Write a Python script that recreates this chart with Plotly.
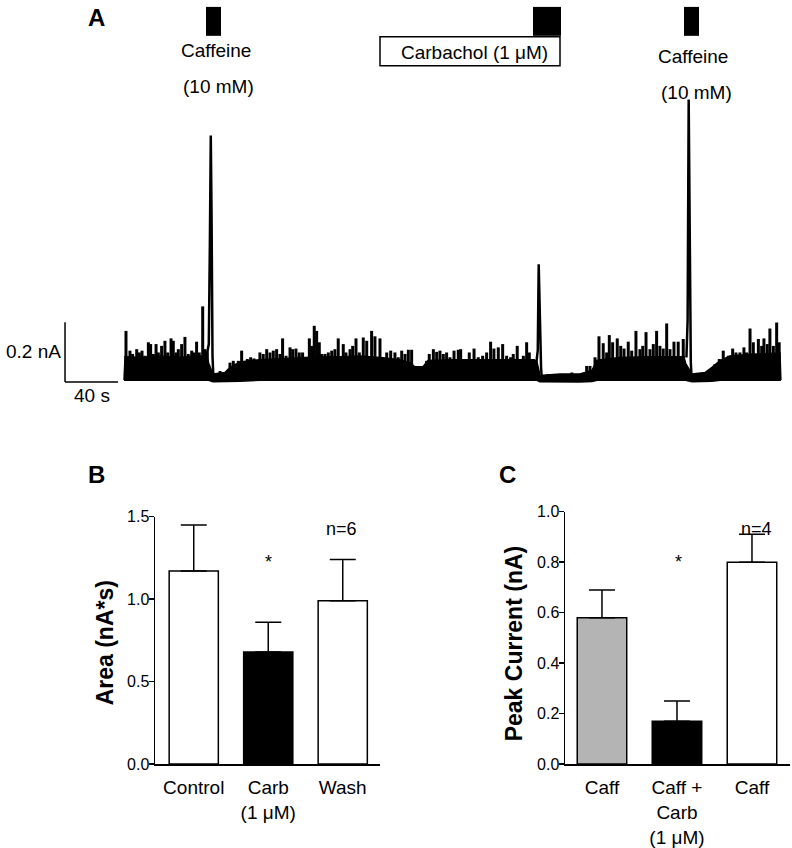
import plotly.graph_objects as go

W, H = 792, 848
# the photographed page is mapped as y_photo = 8.1 + 0.98 * y_page; positions below are
# written in photo pixels and converted back to page coordinates.
Y_OFF, Y_SC = 8.1, 0.980


def px(x):
    return x / W


def py(y):
    return 1 - ((y - Y_OFF) / Y_SC) / H


FONT = "Liberation Sans, Arial, Helvetica, sans-serif"

# ---------------- Panel A : membrane current trace (time in s, current in nA)
spike_t = [1.5, 4.5, 6.5, 9.6, 11.6, 13.6, 15.8, 18.4, 20.1, 22.1, 24.2, 25.9, 28.4, 30.9, 33.0,
           35.5, 37.2, 39.2, 41.0, 43.5, 46.0, 48.5, 51.1, 52.8, 54.8, 56.8, 59.4, 61.1, 62.9,
           72.5, 77.0, 80.0, 82.5, 86.3, 88.8, 90.6, 93.1, 95.6, 98.1, 102.6, 105.1, 107.7, 110.2,
           112.7, 115.2, 117.7, 119.7, 122.3, 125.3, 127.3, 129.8, 132.3, 134.8, 136.6, 139.9, 141.6,
           143.6, 145.4, 147.4, 149.2, 151.7, 154.2, 156.8, 159.2, 161.7,
           165.5, 167.5, 170.6, 172.6, 175.1, 177.6, 180.6, 183.2, 186.9, 189.4, 193.2, 195.7, 198.3,
           201.3, 204.5, 207.0, 209.6, 212.1, 214.6, 217.1, 228.4, 230.4, 233.5, 236.0, 238.5, 241.0,
           243.5, 246.0, 249.1, 252.3, 254.1, 257.4, 260.6, 264.2, 267.4, 270.7, 273.7, 276.7, 279.2,
           282.5, 285.8, 288.8, 291.8, 293.8, 296.8, 299.4, 301.4, 303.9, 305.9, 308.9,
           320.0, 329.1, 338.0, 349.2, 351.7, 355.5, 358.5, 361.7, 364.3, 366.3, 368.8, 372.3, 374.9,
           377.4, 380.6, 383.2, 386.4, 389.4, 391.5, 394.0, 397.0, 399.5, 402.0, 404.5, 407.0, 409.6,
           412.1, 415.1, 418.3, 422.1,
           432.0, 438.0, 446.0, 449.3, 452.3, 456.1, 459.4, 461.9, 464.9, 467.9, 469.9, 472.5, 475.0,
           478.8, 481.3, 483.0, 485.5, 487.5, 490.1, 492.6, 494.5]
spike_amp = [0.164, 0.098, 0.087, 0.103, 0.092, 0.098, 0.081, 0.126, 0.120, 0.087, 0.120, 0.092, 0.114,
             0.131, 0.092, 0.139, 0.131, 0.092, 0.103, 0.120, 0.144, 0.087, 0.098, 0.092, 0.128, 0.092,
             0.246, 0.103, 0.092,
             0.030, 0.020, 0.058, 0.064, 0.064, 0.098, 0.047, 0.070, 0.076, 0.072, 0.092, 0.087, 0.103,
             0.092, 0.098, 0.103, 0.087, 0.139, 0.081, 0.109, 0.103, 0.105, 0.092, 0.092, 0.076, 0.139,
             0.114, 0.181, 0.164, 0.126, 0.087, 0.087, 0.092, 0.098, 0.103, 0.139,
             0.120, 0.092, 0.103, 0.114, 0.139, 0.092, 0.142, 0.131, 0.164, 0.146, 0.139, 0.076, 0.092,
             0.098, 0.092, 0.076, 0.098, 0.087, 0.101, 0.101, 0.064, 0.087, 0.103, 0.094, 0.098, 0.087,
             0.092, 0.076, 0.098, 0.101, 0.103, 0.070, 0.092, 0.105, 0.076, 0.081, 0.092, 0.128, 0.105,
             0.109, 0.120, 0.081, 0.076, 0.087, 0.114, 0.070, 0.081, 0.126, 0.092, 0.070,
             0.020, 0.020, 0.025, 0.047, 0.047, 0.076, 0.146, 0.123, 0.092, 0.150, 0.126, 0.139, 0.114,
             0.105, 0.128, 0.098, 0.164, 0.103, 0.114, 0.160, 0.103, 0.120, 0.164, 0.114, 0.105, 0.189,
             0.103, 0.128, 0.128, 0.137,
             0.020, 0.025, 0.053, 0.070, 0.098, 0.081, 0.105, 0.092, 0.092, 0.109, 0.092, 0.172, 0.126,
             0.137, 0.114, 0.139, 0.120, 0.172, 0.114, 0.192, 0.126]

band_t = [0.0, 0.8, 12.0, 27.0, 42.0, 57.0, 62.6, 64.0, 67.2, 76.2,
          80.0, 87.5, 102.6, 117.7, 132.8, 147.9, 163.0, 178.1, 193.2, 208.3,
          215.8, 219.6, 225.7, 229.4, 246.0, 268.7, 291.3, 309.4, 311.7, 314.0,
          329.0, 344.0, 353.2, 357.0, 374.0, 397.0, 422.6, 424.0, 428.7, 438.5,
          443.8, 449.8, 457.4, 472.5, 495.1, 495.8]
band_top = [0.0, 0.078, 0.075, 0.08, 0.076, 0.08, 0.078, 0.055, 0.02, 0.025,
            0.042, 0.06, 0.068, 0.072, 0.075, 0.078, 0.078, 0.08, 0.075, 0.068,
            0.058, 0.044, 0.044, 0.065, 0.068, 0.068, 0.068, 0.068, 0.06, 0.015,
            0.02, 0.02, 0.032, 0.066, 0.075, 0.078, 0.078, 0.055, 0.02, 0.025,
            0.042, 0.065, 0.08, 0.086, 0.09, 0.0]
band_base = [0.0, 0.0, 0.0, 0.0, 0.0, 0.0, 0.0, 0.0, -0.005, -0.005,
             -0.005, -0.003, 0.0, 0.0, 0.0, 0.0, 0.0, 0.0, 0.0, 0.0,
             0.0, 0.0, 0.0, 0.0, 0.0, 0.0, 0.0, 0.0, 0.0, -0.005,
             -0.006, -0.006, -0.004, 0.0, 0.0, 0.0, 0.0, 0.0, -0.005, -0.005,
             -0.003, 0.0, 0.0, 0.0, 0.0, 0.0]

caff1_t = [62.8, 64.0, 64.8, 65.5, 66.1, 66.8, 67.6]
caff1_i = [0.09, 0.12, 0.45, 0.817, 0.55, 0.08, -0.005]
carb_t = [311.3, 312.3, 313.0, 313.6, 314.1, 314.8, 315.5]
carb_i = [0.06, 0.10, 0.387, 0.25, 0.137, 0.04, -0.005]
caff2_t = [424.5, 425.4, 426.2, 426.7, 427.2, 427.8, 428.5]
caff2_i = [0.075, 0.20, 0.937, 0.60, 0.277, 0.06, -0.005]

scale_time = 40      # s
scale_current = 0.2  # nA

# ---------------- Panel B : area
b_labels = ["Control", "Carb<br>(1 μM)", "Wash"]
b_area = [1.17, 0.68, 0.99]
b_sem = [0.28, 0.18, 0.25]
b_fill = ["white", "black", "white"]
b_ticks = [0.0, 0.5, 1.0, 1.5]

# ---------------- Panel C : peak current
c_labels = ["Caff", "Caff +<br>Carb<br>(1 μM)", "Caff"]
c_peak = [0.58, 0.17, 0.80]
c_sem = [0.11, 0.08, 0.11]
c_fill = ["#b4b4b4", "black", "white"]
c_ticks = [0.0, 0.2, 0.4, 0.6, 0.8, 1.0]

fig = go.Figure()

# --- trace A
fig.add_trace(go.Scatter(x=band_t, y=band_base, mode="lines",
                         line=dict(color="black", width=2), hoverinfo="skip",
                         xaxis="x", yaxis="y"))
fig.add_trace(go.Scatter(x=band_t, y=band_top, mode="lines", fill="tonexty",
                         fillcolor="black", line=dict(color="black", width=1.5),
                         hoverinfo="skip", xaxis="x", yaxis="y"))
sx, sy = [], []
for t, a in zip(spike_t, spike_amp):
    sx += [t, t, None]
    sy += [0.0, a, None]
fig.add_trace(go.Scatter(x=sx, y=sy, mode="lines", line=dict(color="black", width=3),
                         hoverinfo="skip", xaxis="x", yaxis="y"))
for tt, ii in [(caff1_t, caff1_i), (carb_t, carb_i), (caff2_t, caff2_i)]:
    fig.add_trace(go.Scatter(x=tt, y=ii, mode="lines", line=dict(color="black", width=2.5),
                             hoverinfo="skip", xaxis="x", yaxis="y"))

# --- bars B
fig.add_trace(go.Bar(x=[0, 1, 2], y=b_area, width=0.66,
                     marker=dict(color=b_fill, line=dict(color="black", width=1.5)),
                     error_y=dict(type="data", symmetric=False, array=b_sem,
                                  arrayminus=[0, 0, 0], color="black", thickness=1.5, width=13),
                     xaxis="x2", yaxis="y2"))
# --- bars C
fig.add_trace(go.Bar(x=[0, 1, 2], y=c_peak, width=0.66,
                     marker=dict(color=c_fill, line=dict(color="black", width=1.5)),
                     error_y=dict(type="data", symmetric=False, array=c_sem,
                                  arrayminus=[0, 0, 0], color="black", thickness=1.5, width=13),
                     xaxis="x3", yaxis="y3"))

axis_common = dict(showgrid=False, zeroline=False, showline=True, linecolor="black",
                   linewidth=1.5, fixedrange=True, color="black")

fig.update_layout(
    width=W, height=H, margin=dict(l=0, r=0, t=0, b=0),
    paper_bgcolor="white", plot_bgcolor="white", showlegend=False,
    font=dict(family=FONT, color="black", size=16),
    xaxis=dict(domain=[px(60), px(785)], range=[-48.3, 498.9], visible=False, fixedrange=True),
    yaxis=dict(domain=[py(391), py(81)], range=[-0.0333, 1.0], visible=False, fixedrange=True),
    xaxis2=dict(domain=[px(155), px(380)], range=[-0.52, 2.5], anchor="y2",
                tickmode="array", tickvals=[0, 1, 2], ticktext=b_labels, ticks="",
                tickfont=dict(size=19), ticklabelstandoff=6, **axis_common),
    yaxis2=dict(domain=[py(766), py(518)], range=[0, 1.5], anchor="x2",
                tickmode="array", tickvals=b_ticks, tickformat=".1f", ticks="outside",
                ticklen=5, tickwidth=1.5, tickcolor="black", tickfont=dict(size=16),
                ticklabelstandoff=-4, **axis_common),
    xaxis3=dict(domain=[px(565), px(790)], range=[-0.493, 2.507], anchor="y3",
                tickmode="array", tickvals=[0, 1, 2], ticktext=c_labels, ticks="",
                tickfont=dict(size=19), ticklabelstandoff=6, **axis_common),
    yaxis3=dict(domain=[py(766), py(513)], range=[0, 1.0], anchor="x3",
                tickmode="array", tickvals=c_ticks, tickformat=".1f", ticks="outside",
                ticklen=5, tickwidth=1.5, tickcolor="black", tickfont=dict(size=16),
                ticklabelstandoff=-4, **axis_common),
)

# scale bar (data coordinates of the trace axes)
sb_t0, sb_i0 = -44.5, -0.007
fig.add_shape(type="line", xref="x", yref="y", x0=sb_t0, x1=sb_t0,
              y0=sb_i0, y1=sb_i0 + scale_current, line=dict(color="black", width=1.5))
fig.add_shape(type="line", xref="x", yref="y", x0=sb_t0, x1=sb_t0 + scale_time,
              y0=sb_i0, y1=sb_i0, line=dict(color="black", width=1.5))

# drug application markers
for x0, x1 in [(206, 221), (533, 561), (684, 699)]:
    fig.add_shape(type="rect", xref="paper", yref="paper", x0=px(x0), x1=px(x1),
                  y0=py(36), y1=py(7), fillcolor="black", line=dict(width=0))
fig.add_shape(type="rect", xref="paper", yref="paper", x0=px(380), x1=px(560),
              y0=py(66), y1=py(37), line=dict(color="black", width=1.5))


def note(text, x, y, size=19, **kw):
    fig.add_annotation(text=text, x=px(x), y=py(y), xref="paper", yref="paper",
                       showarrow=False, font=dict(family=FONT, size=size, color="black"),
                       xanchor="center", yanchor="middle", **kw)


note("<b>A</b>", 96, 18, 24)
note("<b>B</b>", 96, 476, 24)
note("<b>C</b>", 507, 476, 24)
note("Caffeine", 216, 51)
note("(10 mM)", 219, 87)
note("Caffeine", 693, 57)
note("(10 mM)", 696, 93)
note("Carbachol (1 μM)", 474, 53)
note("0.2 nA", 33, 352)
note("40 s", 92, 397)
note("*", 268, 563, 18)
note("n=6", 341, 530, 18)
note("*", 678, 563, 18)
note("n=4", 756, 530, 18)
note("<b>Area (nA*s)</b>", 105, 645, 23, textangle=-90)
note("<b>Peak Current (nA)</b>", 514, 645, 23, textangle=-90)

fig.write_html(
    "out.html",
    config={"displayModeBar": False, "staticPlot": True},
    post_script=("document.documentElement.style.overflow='hidden';"
                 "document.body.style.margin='0';document.body.style.overflow='hidden';"
                 "var d=document.getElementById('{plot_id}');"
                 "d.style.position='fixed';d.style.top='0px';d.style.left='0px';"),
)
